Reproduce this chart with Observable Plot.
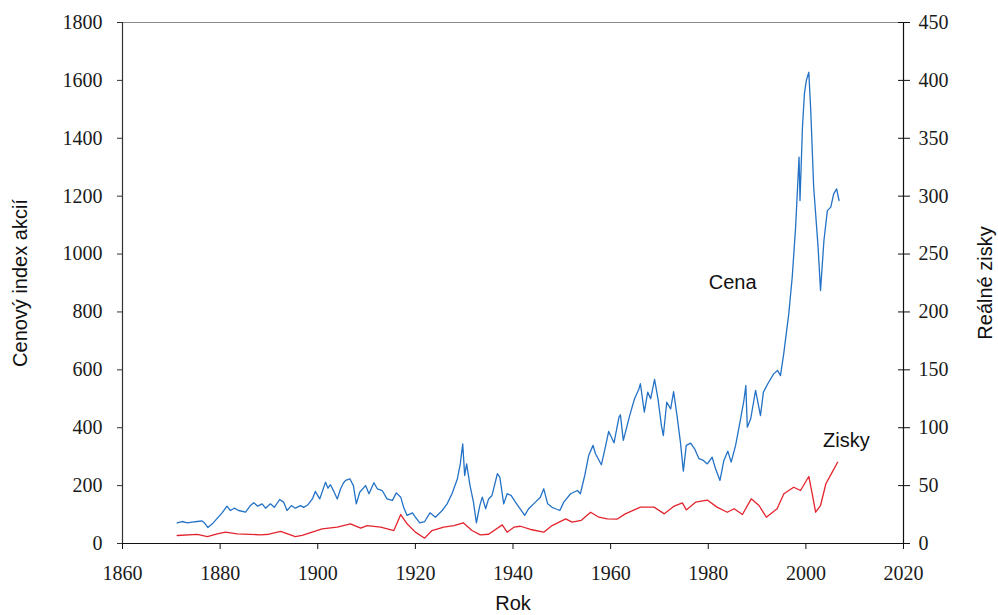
<!DOCTYPE html>
<html>
<head>
<meta charset="utf-8">
<script src="https://cdn.jsdelivr.net/npm/d3@7"></script>
<script src="https://cdn.jsdelivr.net/npm/@observablehq/plot@0.6"></script>
<style>
  html, body { margin: 0; padding: 0; background: #fff; }
  #chart { width: 998px; height: 615px; }
</style>
</head>
<body>
<div id="chart"></div>
<script>
// Real stock price index (left axis)
const priceYears = [1871.2,1872.2,1873.3,1874.3,1875.3,1876.3,1876.8,1877.5,1878.4,1879.4,1880.4,1881.4,1882.1,1882.9,1883.8,1885.2,1886.2,1886.9,1887.7,1888.6,1889.3,1890.3,1891.1,1892.2,1893,1893.7,1894.6,1895.4,1896.5,1897.1,1898,1898.9,1899.5,1900.4,1901.6,1902.1,1902.6,1903.3,1904,1904.7,1905.3,1905.7,1906.6,1907.3,1907.9,1908.6,1909.8,1910.5,1911.5,1912.2,1913.2,1914.2,1915.3,1916.1,1917,1917.6,1918.3,1919.4,1920,1920.9,1921.9,1923,1924.1,1925.5,1926.5,1927.5,1928.6,1929.2,1929.7,1930.1,1930.5,1931.2,1931.9,1932.5,1933.2,1933.7,1934.4,1935,1935.7,1936.8,1937.3,1938.1,1938.8,1939.6,1940.5,1942.4,1943.2,1944.6,1945.6,1946.3,1947.1,1948,1948.7,1949.6,1950.4,1951.8,1953.2,1953.8,1954.7,1955.5,1956.4,1956.9,1958.1,1959,1959.6,1960.7,1961.7,1962,1962.6,1963.3,1963.9,1964.9,1965.8,1966.1,1966.9,1967.6,1968.2,1969,1969.7,1970.4,1970.8,1971.5,1972.3,1972.9,1973.6,1974.3,1974.9,1975.5,1976.4,1977.2,1978.1,1979,1979.8,1980.8,1981.5,1982.4,1983.2,1984,1984.7,1985.6,1986.5,1987.3,1987.7,1988,1988.7,1989.7,1990.7,1991.3,1992.2,1993.4,1994.2,1994.8,1995.5,1996.5,1997.2,1997.9,1998.6,1998.8,1999.3,1999.7,2000.1,2000.6,2001,2001.6,2002,2002.5,2003,2003.7,2004.4,2005.1,2005.7,2006.3,2006.8];
const priceValues = [71,76,71,74,76,78,71,55,68,87,106,129,114,122,114,108,131,141,129,137,122,137,125,152,143,114,131,122,131,125,134,154,180,154,212,191,203,180,154,190,210,218,223,200,137,177,200,172,210,189,183,154,149,175,160,125,97,106,91,71,76,106,91,114,137,172,223,275,344,235,275,200,143,71,131,160,120,154,166,241,229,137,172,166,143,97,120,143,160,189,137,125,120,114,143,172,183,172,235,304,339,310,272,339,387,348,436,445,356,402,442,500,534,552,454,523,500,567,500,408,373,488,465,525,442,350,250,339,347,327,293,287,275,298,258,218,287,319,281,339,419,494,546,402,431,529,442,523,552,586,598,580,660,794,920,1093,1335,1185,1438,1554,1600,1628,1496,1231,1139,1024,874,1047,1150,1162,1208,1225,1185];

// Real earnings (right axis)
const earnYears = [1871.2,1875.3,1877.4,1879.4,1881.1,1883.5,1888.3,1890,1892.4,1895.4,1896.8,1900.9,1904,1906.7,1908.8,1910.1,1912.9,1915.6,1917,1918.3,1920,1921.9,1923.4,1925.8,1927.9,1929.8,1931.6,1933.3,1935,1937.8,1938.8,1940.2,1941.5,1943.6,1946.3,1948,1950.8,1952.1,1954,1955.9,1957.6,1959.3,1961.3,1963,1966.1,1968.9,1971,1972.9,1974.7,1975.5,1977.4,1979.8,1981.8,1983.9,1985.3,1987,1988.8,1990.4,1991.9,1994.1,1995.5,1997.5,1998.9,2000.6,2001.3,2002,2003,2004.1,2005.4,2006.5];
const earnValues = [6.9,7.8,6,8.4,9.8,8.4,7.5,8,10.4,6,7,12.7,14.1,17,13.2,15.5,14.1,11.2,25,17,9.8,4.6,11.2,14.1,15.5,17.9,11.2,7.5,8,16.1,9.8,14.1,14.9,12.1,9.8,15.5,21.3,18.4,20,27,22.7,21.3,21,25.6,31.4,31.4,25.6,32,35.1,29,35.7,37.5,31.4,27,30,25,38.6,32.8,22.7,30,42.9,48.6,45.8,57.9,42.9,27,32.8,51.6,61.6,70.2];

const xTicks = [1860,1880,1900,1920,1940,1960,1980,2000,2020];
const leftTicks = [0,200,400,600,800,1000,1200,1400,1600,1800];
const rightTicks = [0,50,100,150,200,250,300,350,400,450];

const ratio = 1800 / 450; // right axis maps 0..450 onto left 0..1800

const price = priceYears.map((x, i) => ({x, v: priceValues[i]}));
const earn = earnYears.map((x, i) => ({x, v: earnValues[i]}));

const sans = "Liberation Sans, Arial, sans-serif";

const chart = Plot.plot({
  width: 998,
  height: 615,
  marginLeft: 122,
  marginRight: 95,
  marginTop: 22,
  marginBottom: 72,
  style: {fontFamily: "Liberation Serif, Times New Roman, serif", fontSize: "20px", color: "#1a1a1a", background: "#fff", overflow: "visible"},
  x: {domain: [1860, 2020]},
  y: {domain: [0, 1800]},
  marks: [
    Plot.ruleY([1800], {stroke: "#8a8a8a", strokeWidth: 1}),
    Plot.line(price, {x: "x", y: "v", stroke: "#2372c6", strokeWidth: 1.3}),
    Plot.line(earn, {x: "x", y: d => d.v * ratio, stroke: "#e3242e", strokeWidth: 1.3}),
    Plot.ruleX([1860], {stroke: "#333", strokeWidth: 1.2}),
    Plot.ruleX([2020], {stroke: "#111", strokeWidth: 1.2}),
    Plot.ruleY([0], {stroke: "#111", strokeWidth: 1.2}),
    Plot.axisX({ticks: xTicks, tickSize: 6, tickPadding: 16, tickFormat: d => String(d), label: null, stroke: "#111"}),
    Plot.axisY({anchor: "left", ticks: leftTicks, tickSize: 5, tickPadding: 15, tickFormat: d => String(d), label: null, stroke: "#333"}),
    Plot.axisY({anchor: "right", ticks: rightTicks.map(t => t * ratio), tickSize: 12, dx: -6, tickPadding: 9, tickFormat: d => String(d / ratio), label: null, stroke: "#111"}),
    Plot.text(["Rok"], {frameAnchor: "bottom", dy: 66, fontFamily: sans, fontSize: 20, fill: "#111"}),
    Plot.text(["Cenový index akcií"], {frameAnchor: "left", dx: -102, rotate: -90, textAnchor: "middle", fontFamily: sans, fontSize: 20, fill: "#111"}),
    Plot.text(["Reálné zisky"], {frameAnchor: "right", dx: 82, rotate: -90, textAnchor: "middle", fontFamily: sans, fontSize: 20, fill: "#111"}),
    Plot.text(["Cena"], {x: 1985, y: 900, fontFamily: sans, fontSize: 20, fill: "#111"}),
    Plot.text(["Zisky"], {x: 2008.3, y: 89 * ratio, fontFamily: sans, fontSize: 20, fill: "#111"})
  ]
});
document.getElementById("chart").appendChild(chart);
</script>
</body>
</html>
